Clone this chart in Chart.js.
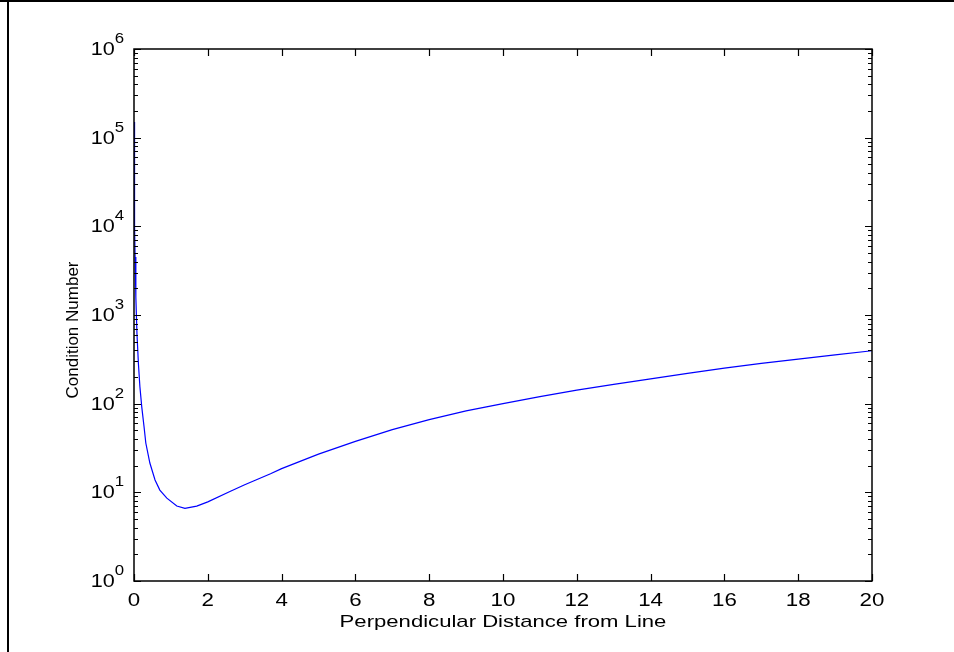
<!DOCTYPE html>
<html>
<head>
<meta charset="utf-8">
<script src="https://cdn.jsdelivr.net/npm/chart.js@4.4.0/dist/chart.umd.min.js"></script>
<style>
  html, body { margin: 0; padding: 0; background: #fff; }
  #wrap { width: 954px; height: 652px; position: relative; }
</style>
</head>
<body>
<div id="wrap"><canvas id="condChart"></canvas></div>
<script>
// values
var distance = [0.005, 0.01, 0.02, 0.03, 0.05, 0.08, 0.12, 0.16, 0.21, 0.27, 0.32, 0.43, 0.57, 0.70, 0.89,
                1.16, 1.38, 1.70, 2.0, 2.6, 3.0, 3.7, 4, 5, 6, 7, 8, 9, 10,
                11, 12, 13, 14, 15, 16, 17, 18, 19, 20];
var condNumber = [150000, 40000, 10000, 4500, 1600, 620, 280, 155, 92, 56, 36, 21.4, 13.8, 10.6, 8.6,
                  7.0, 6.6, 7.0, 7.8, 10.2, 12.2, 16.2, 18.5, 27, 37.5, 51, 66, 83, 100,
                  120, 142, 165, 190, 220, 252, 285, 318, 355, 395];
var xTicks = [0, 2, 4, 6, 8, 10, 12, 14, 16, 18, 20];
var yExponents = [0, 1, 2, 3, 4, 5, 6];

var FONT = '"Liberation Sans", Arial, sans-serif';

var points = distance.map(function (d, i) { return { x: d, y: condNumber[i] }; });

// text in the picture is stretched sideways, so draw it with a horizontal scale
function wideText(ctx, txt, x, y, align, size, stretch) {
	ctx.save();
	ctx.font = size + 'px ' + FONT;
	var w = ctx.measureText(txt).width * stretch;
	var left = x;
	if (align === 'center') left = x - w / 2;
	if (align === 'right') left = x - w;
	ctx.translate(left, y);
	ctx.scale(stretch, 1);
	ctx.textAlign = 'left';
	ctx.textBaseline = 'alphabetic';
	ctx.fillText(txt, 0, 0);
	ctx.restore();
	return w;
}

var matlabAxes = {
	id: 'matlabAxes',
	afterDraw: function (chart) {
		var ctx = chart.ctx;
		var a = chart.chartArea;
		var xs = chart.scales.x, ys = chart.scales.y;
		ctx.save();
		ctx.fillStyle = '#000';
		ctx.strokeStyle = '#000';

		// figure frame (top and left)
		ctx.fillRect(0, 0, 954, 2);
		ctx.fillRect(7, 0, 2, 652);

		// box
		ctx.lineWidth = 1.5;
		ctx.strokeRect(a.left, a.top, a.right - a.left, a.bottom - a.top);

		// x ticks
		ctx.lineWidth = 1.2;
		ctx.beginPath();
		xTicks.forEach(function (t) {
			var px = Math.round(xs.getPixelForValue(t)) + 0.5;
			ctx.moveTo(px, a.bottom); ctx.lineTo(px, a.bottom - 7);
			ctx.moveTo(px, a.top); ctx.lineTo(px, a.top + 7);
		});
		// y ticks, major and minor
		yExponents.forEach(function (e) {
			for (var m = 1; m <= 9; m++) {
				if (e === 6 && m > 1) break;
				var py = Math.round(ys.getPixelForValue(m * Math.pow(10, e))) + 0.5;
				var len = m === 1 ? 7 : 4;
				ctx.moveTo(a.left, py); ctx.lineTo(a.left + len, py);
				ctx.moveTo(a.right, py); ctx.lineTo(a.right - len, py);
			}
		});
		ctx.stroke();

		// x tick labels
		xTicks.forEach(function (t) {
			wideText(ctx, String(t), xs.getPixelForValue(t), 606, 'center', 18, 1.24);
		});
		// y tick labels 10^n
		yExponents.forEach(function (e) {
			var py = ys.getPixelForValue(Math.pow(10, e));
			var supW = wideText(ctx, String(e), 124, py - 6, 'right', 14, 1.2);
			wideText(ctx, '10', 124 - supW, py + 6, 'right', 18, 1.2);
		});

		// axis titles
		wideText(ctx, 'Perpendicular Distance from Line', (a.left + a.right) / 2, 627, 'center', 17, 1.3);
		ctx.save();
		ctx.translate(78, 330);
		ctx.rotate(-Math.PI / 2);
		ctx.font = '17px ' + FONT;
		ctx.textAlign = 'center';
		ctx.textBaseline = 'alphabetic';
		ctx.fillText('Condition Number', 0, 0);
		ctx.restore();

		ctx.restore();
	}
};

var ctx = document.getElementById('condChart').getContext('2d');
var condChart = new Chart(ctx, {
	type: 'line',
	data: {
		datasets: [{
			label: 'Condition Number',
			data: points,
			borderColor: '#0000ff',
			borderWidth: 1.2,
			pointRadius: 0,
			tension: 0,
			fill: false
		}]
	},
	options: {
		responsive: true,
		maintainAspectRatio: false,
		animation: false,
		layout: { padding: { left: 134, right: 82, top: 49, bottom: 71 } },
		plugins: { legend: { display: false }, tooltip: { enabled: false } },
		scales: {
			x: { type: 'linear', min: 0, max: 20, display: false },
			y: { type: 'logarithmic', min: 1, max: 1000000, display: false }
		}
	},
	plugins: [matlabAxes]
});
</script>
</body>
</html>
